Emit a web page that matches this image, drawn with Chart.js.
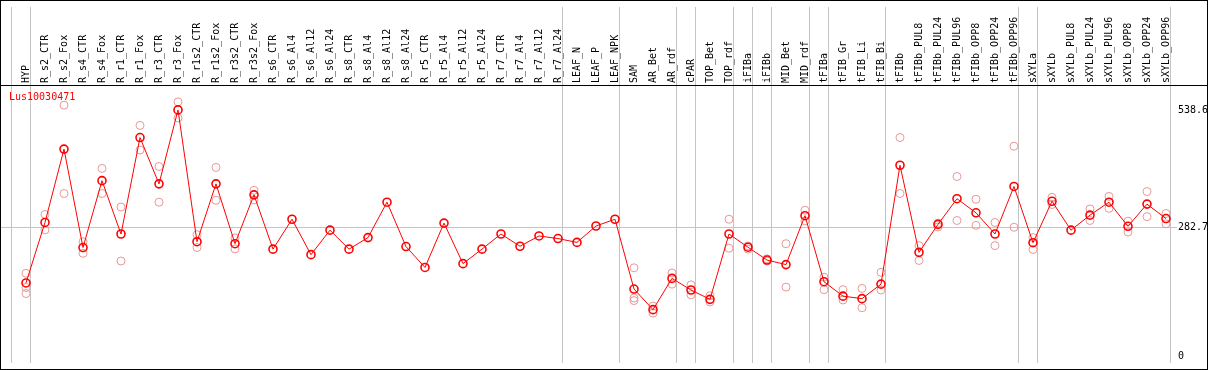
<!DOCTYPE html>
<html>
<head>
<meta charset="utf-8">
<script src="https://cdn.jsdelivr.net/npm/chart.js@4.4.0/dist/chart.umd.min.js"></script>
<style>
  html, body { margin: 0; padding: 0; background: #fff; }
  canvas { display: block; }
</style>
</head>
<body>
<canvas id="chart" width="1209" height="370"></canvas>
<script>
// gene name shown in the corner
const seriesName = 'Lus10030471';

// sample names (top labels)
const categories = [
  'HYP', 'R_s2_CTR', 'R_s2_Fox', 'R_s4_CTR', 'R_s4_Fox', 'R_r1_CTR', 'R_r1_Fox', 'R_r3_CTR', 'R_r3_Fox', 'R_r1s2_CTR',
  'R_r1s2_Fox', 'R_r3s2_CTR', 'R_r3s2_Fox', 'R_s6_CTR', 'R_s6_Al4', 'R_s6_Al12', 'R_s6_Al24', 'R_s8_CTR', 'R_s8_Al4', 'R_s8_Al12',
  'R_s8_Al24', 'R_r5_CTR', 'R_r5_Al4', 'R_r5_Al12', 'R_r5_Al24', 'R_r7_CTR', 'R_r7_Al4', 'R_r7_Al12', 'R_r7_Al24', 'LEAF_N',
  'LEAF_P', 'LEAF_NPK', 'SAM', 'AR_Bet', 'AR_rdf', 'cPAR', 'TOP_Bet', 'TOP_rdf', 'iFIBa', 'iFIBb',
  'MID_Bet', 'MID_rdf', 'tFIBa', 'tFIB_Gr', 'tFIB_Li', 'tFIB_Bi', 'tFIBb', 'tFIBb_PUL8', 'tFIBb_PUL24', 'tFIBb_PUL96',
  'tFIBb_OPP8', 'tFIBb_OPP24', 'tFIBb_OPP96', 'sXYLa', 'sXYLb', 'sXYLb_PUL8', 'sXYLb_PUL24', 'sXYLb_PUL96', 'sXYLb_OPP8', 'sXYLb_OPP24',
  'sXYLb_OPP96'
];

// mean expression (red line)
const meanValues = [
  161.2, 293.1, 453.1, 238.4, 384.3, 267.9, 478.3, 377.3, 538.6, 251.1,
  377.3, 246.8, 353.3, 234.9, 300.1, 222.9, 276.3, 234.9, 260.1, 337.3,
  240.5, 194.9, 291.7, 203.3, 234.9, 267.9, 241.2, 263.7, 258.0, 249.6,
  285.4, 300.1, 147.9, 102.9, 171.1, 145.8, 125.4, 267.9, 239.1, 211.1,
  201.2, 307.9, 163.9, 132.4, 126.9, 158.5, 417.9, 227.9, 288.9, 344.9,
  314.2, 267.9, 371.6, 249.0, 339.4, 276.3, 309.1, 337.3, 284.7, 333.1,
  301.6
];

// replicates (pink circles)
const rep1 = [
  182.2, 310.6, 549.0, 251.1, 411.0, 326.8, 504.8, 415.2, 556.2, 266.4,
  413.1, 259.5, 363.2, null, null, null, null, null, null, null,
  null, null, null, null, null, null, null, null, null, null,
  null, null, 194.2, 110.7, 182.9, 157.0, 133.2, 300.1, 241.8, 213.8,
  246.8, 319.7, 173.8, 146.5, 149.2, 184.3, 478.3, 242.6, 291.7, 393.3,
  343.7, 293.1, 459.4, 260.1, 347.9, null, 322.6, 350.0, 295.9, 360.5,
  312.7
];
const rep2 = [
  151.3, 276.9, 356.3, 225.8, 356.3, 209.0, 451.0, 337.3, 521.1, 238.4,
  341.5, 235.5, 342.2, null, null, null, null, null, null, null,
  null, null, null, null, null, null, null, null, null, null,
  null, null, 128.2, 95.3, 158.5, 135.3, 119.7, 237.0, 234.9, 209.0,
  152.1, 296.5, 146.5, 124.0, 107.1, 145.8, 356.3, 210.2, 283.3, 297.4,
  286.8, 242.6, 282.6, 234.2, 332.3, null, 297.4, 323.9, 272.1, 305.8,
  290.2
];
const rep3 = [
  138.1, null, null, null, null, null, null, null, null, null,
  null, null, null, null, null, null, null, null, null, null,
  null, null, null, null, null, null, null, null, null, null,
  null, null, 122.7, null, null, null, null, null, null, null,
  null, null, null, null, null, null, null, null, null, null,
  null, null, null, null, null, null, null, null, null, null,
  null
];

const yTicks = [0, 282.7, 538.6];
// group separators come right after these sample indexes
const groupEnds = [-1, 0, 28, 31, 34, 35, 37, 38, 39, 41, 42, 45, 52, 53, 60];

const toPoints = arr => arr.map((v, i) => ({ x: i, y: v }));
const monoFont = { family: '"DejaVu Sans Mono", monospace', size: 10 };

// frame, header labels and gene name
const headerPlugin = {
  id: 'header',
  afterDraw(chart) {
    const ctx = chart.ctx;
    const xs = chart.scales.x;
    ctx.save();
    ctx.strokeStyle = '#000';
    ctx.lineWidth = 1;
    ctx.strokeRect(0.5, 0.5, 1207, 369);
    ctx.beginPath();
    ctx.moveTo(0, 85.5);
    ctx.lineTo(1208, 85.5);
    ctx.stroke();

    ctx.font = '10px "DejaVu Sans Mono", monospace';
    ctx.fillStyle = '#000';
    ctx.textAlign = 'left';
    ctx.textBaseline = 'middle';
    categories.forEach((name, i) => {
      ctx.save();
      ctx.translate(Math.round(xs.getPixelForValue(i)), 83);
      ctx.rotate(-Math.PI / 2);
      ctx.fillText(name, 0, 0);
      ctx.restore();
    });

    ctx.fillStyle = '#ff0000';
    ctx.fillText(seriesName, 9, 97);
    ctx.restore();
  }
};

const repStyle = {
  showLine: false,
  pointStyle: 'circle',
  pointRadius: 4,
  pointBorderWidth: 1,
  pointBorderColor: 'rgba(232, 140, 140, 0.9)',
  pointBackgroundColor: 'rgba(0,0,0,0)'
};

new Chart(document.getElementById('chart'), {
  type: 'line',
  data: {
    datasets: [
      {
        label: seriesName,
        data: toPoints(meanValues),
        borderColor: '#ff0000',
        borderWidth: 1,
        pointStyle: 'circle',
        pointRadius: 4,
        pointBorderWidth: 1.6,
        pointBorderColor: '#ff0000',
        pointBackgroundColor: 'rgba(0,0,0,0)',
        tension: 0
      },
      Object.assign({ label: 'rep1', data: toPoints(rep1) }, repStyle),
      Object.assign({ label: 'rep2', data: toPoints(rep2) }, repStyle),
      Object.assign({ label: 'rep3', data: toPoints(rep3) }, repStyle)
    ]
  },
  options: {
    responsive: false,
    devicePixelRatio: 1,
    animation: false,
    layout: { autoPadding: false, padding: { left: 1, right: 2, top: 0, bottom: 1 } },
    plugins: {
      legend: { display: false },
      tooltip: { enabled: false }
    },
    scales: {
      x: {
        type: 'linear',
        min: -1.3158,
        max: 60.579,
        afterBuildTicks: scale => {
          scale.ticks = groupEnds.map(g => ({ value: g + 0.22 }));
        },
        ticks: { display: false },
        grid: { color: '#c4c4c4', lineWidth: 1, drawTicks: false },
        border: { display: false }
      },
      y: {
        type: 'linear',
        position: 'right',
        min: -13.47,
        max: 763.1,
        afterBuildTicks: scale => {
          scale.ticks = yTicks.map(v => ({ value: v }));
        },
        afterFit: scale => { scale.width = 30; },
        ticks: {
          font: monoFont,
          color: '#000',
          padding: 1,
          callback: v => String(v)
        },
        grid: {
          color: c => (c.tick && c.tick.value === 282.7 ? '#c4c4c4' : 'rgba(0,0,0,0)'),
          drawTicks: false
        },
        border: { display: false }
      }
    }
  },
  plugins: [headerPlugin]
});
</script>
</body>
</html>
